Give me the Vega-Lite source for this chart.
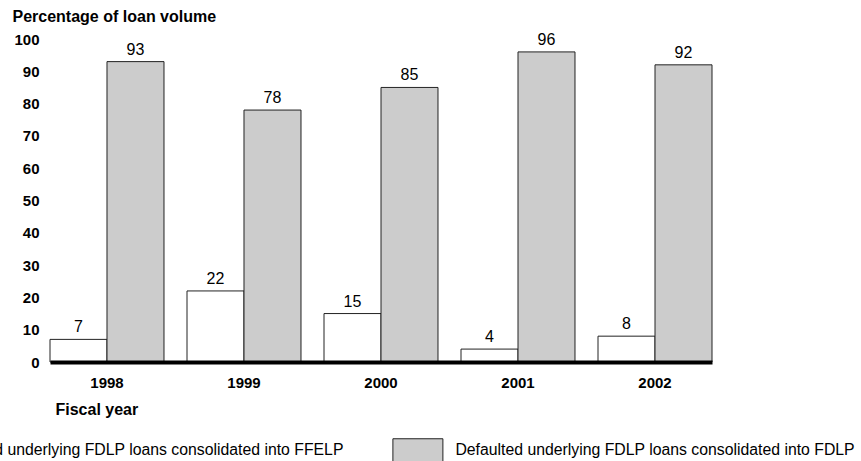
{
  "$schema": "https://vega.github.io/schema/vega-lite/v6.json",
  "width": 662,
  "height": 323,
  "autosize": {"type": "none"},
  "padding": {"left": 50, "top": 39, "right": 149, "bottom": 99},
  "config": {
    "font": "Liberation Sans",
    "view": {"stroke": null},
    "legend": {"padding": 0}
  },
  "data": {
    "values": [
      {"year": "1998", "series": "Defaulted underlying FDLP loans consolidated into FFELP", "value": 7},
      {"year": "1998", "series": "Defaulted underlying FDLP loans consolidated into FDLP", "value": 93},
      {"year": "1999", "series": "Defaulted underlying FDLP loans consolidated into FFELP", "value": 22},
      {"year": "1999", "series": "Defaulted underlying FDLP loans consolidated into FDLP", "value": 78},
      {"year": "2000", "series": "Defaulted underlying FDLP loans consolidated into FFELP", "value": 15},
      {"year": "2000", "series": "Defaulted underlying FDLP loans consolidated into FDLP", "value": 85},
      {"year": "2001", "series": "Defaulted underlying FDLP loans consolidated into FFELP", "value": 4},
      {"year": "2001", "series": "Defaulted underlying FDLP loans consolidated into FDLP", "value": 96},
      {"year": "2002", "series": "Defaulted underlying FDLP loans consolidated into FFELP", "value": 8},
      {"year": "2002", "series": "Defaulted underlying FDLP loans consolidated into FDLP", "value": 92}
    ]
  },
  "encoding": {
    "x": {
      "field": "year",
      "type": "nominal",
      "scale": {"paddingInner": 0.168, "paddingOuter": 0},
      "axis": {
        "zindex": 1,
        "domain": true,
        "domainWidth": 4,
        "domainColor": "#000000",
        "ticks": false,
        "grid": false,
        "labelAngle": 0,
        "labelFontWeight": "bold",
        "labelFontSize": 15,
        "labelColor": "#000000",
        "labelPadding": 13,
        "title": "Fiscal year",
        "titleFontSize": 16,
        "titleFontWeight": "bold",
        "titleColor": "#000000",
        "titleAlign": "left",
        "titleBaseline": "alphabetic",
        "titleX": 5,
        "titleY": 52
      }
    },
    "xOffset": {
      "field": "series",
      "type": "nominal",
      "scale": {
        "domain": [
          "Defaulted underlying FDLP loans consolidated into FFELP",
          "Defaulted underlying FDLP loans consolidated into FDLP"
        ],
        "paddingInner": 0,
        "paddingOuter": 0
      }
    },
    "y": {
      "field": "value",
      "type": "quantitative",
      "scale": {"domain": [0, 100]},
      "axis": {
        "values": [0, 10, 20, 30, 40, 50, 60, 70, 80, 90, 100],
        "domain": false,
        "ticks": false,
        "grid": false,
        "labelFontWeight": "bold",
        "labelFontSize": 15,
        "labelColor": "#000000",
        "labelPadding": 11,
        "title": "Percentage of loan volume",
        "titleAngle": 0,
        "titleAlign": "left",
        "titleBaseline": "alphabetic",
        "titleX": -38,
        "titleY": -18,
        "titleFontSize": 16,
        "titleFontWeight": "bold",
        "titleColor": "#000000"
      }
    }
  },
  "layer": [
    {
      "mark": {"type": "bar", "stroke": "#222222", "strokeWidth": 1},
      "encoding": {
        "color": {
          "field": "series",
          "type": "nominal",
          "scale": {
            "domain": [
              "Defaulted underlying FDLP loans consolidated into FFELP",
              "Defaulted underlying FDLP loans consolidated into FDLP"
            ],
            "range": ["#ffffff", "#cccccc"]
          },
          "legend": {
            "orient": "none",
            "legendX": -177.6,
            "legendY": 390,
            "direction": "horizontal",
            "title": null,
            "symbolType": "M-1,-0.64H1V0.64H-1Z",
            "symbolSize": 2500,
            "symbolStrokeColor": "#222222",
            "symbolStrokeWidth": 1,
            "symbolOpacity": 1,
            "labelFontSize": 15.8,
            "labelColor": "#000000",
            "labelOffset": 12,
            "labelLimit": 600,
            "labelBaseline": "alphabetic",
            "columnPadding": 46
          }
        }
      }
    },
    {
      "mark": {"type": "text", "dy": -7, "baseline": "alphabetic", "fontSize": 16, "color": "#000000"},
      "encoding": {"text": {"field": "value", "type": "quantitative"}}
    }
  ]
}
